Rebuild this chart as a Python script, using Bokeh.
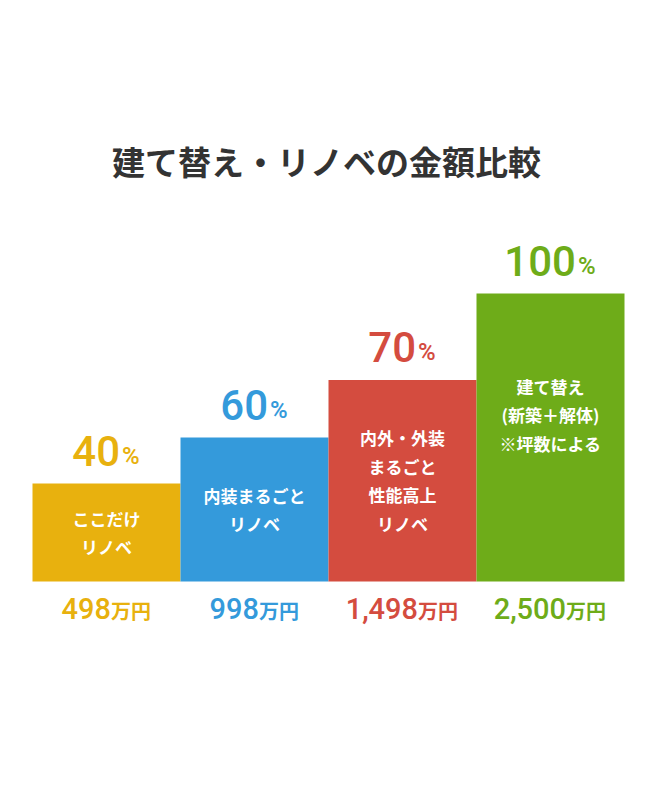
from bokeh.plotting import figure
from bokeh.models import ColumnDataSource, Range1d, Label
from bokeh.core.properties import value
from bokeh.embed import file_html
from bokeh.resources import INLINE

# ---- data ----
title_text = "建て替え・リノベの金額比較"
categories = [
    "ここだけ\nリノベ",
    "内装まるごと\nリノベ",
    "内外・外装\nまるごと\n性能高上\nリノベ",
    "建て替え\n(新築＋解体)\n※坪数による",
]
percent_labels = ["40", "60", "70", "100"]
bar_heights = [34, 50, 70, 100]          # visual bar heights
amount_labels = ["498", "998", "1,498", "2,500"]
amount_unit = "万円"
colors = ["#E8B10E", "#349ADB", "#D44C3F", "#6EAC19"]

# ---- geometry / style ----
W, H = 648, 792
NUM_FONT = "Roboto Medium, Roboto"
JP_FONT = "Noto Sans CJK JP"
PCT_SIZE, PCT_SUF_SIZE = 42, 24
AMT_SIZE, AMT_SUF_SIZE = 29, 20
IN_SIZE = 17


def num_width(s, size):
    return sum(0.562 if c.isdigit() else 0.2 for c in s) * size


xs = list(range(len(categories)))
pct_off = [(num_width(s, PCT_SIZE) - 0.75 * PCT_SUF_SIZE) / 2 - 1 for s in percent_labels]
pct_suf_off = [o + 2 for o in pct_off]
amt_off = [(num_width(s, AMT_SIZE) - 2 * AMT_SUF_SIZE) / 2 for s in amount_labels]
in_y = [h / 2 for h in bar_heights]
in_yoff = [0, 0, 0, -23]

src = ColumnDataSource(dict(
    x=xs, top=bar_heights, color=colors, cat=categories,
    pct=percent_labels, pct_suf=["%"] * len(xs), pct_off=pct_off, pct_suf_off=pct_suf_off,
    amt=amount_labels, amt_suf=[amount_unit] * len(xs), amt_off=amt_off,
    in_y=in_y, in_yoff=in_yoff, zero=[0] * len(xs),
))

px_per_unit = 2.88
base_from_bottom = H - 581
pad_l, pad_r = 32 / 148, 24 / 148
p = figure(width=W, height=H, output_backend="svg", toolbar_location=None,
           x_range=Range1d(-0.5 - pad_l, len(xs) - 0.5 + pad_r),
           y_range=Range1d(-base_from_bottom / px_per_unit,
                           (H - base_from_bottom) / px_per_unit),
           min_border=0)
p.axis.visible = False
p.grid.visible = False
p.outline_line_color = None
p.background_fill_color = "white"
p.border_fill_color = "white"

p.vbar(x="x", top="top", width=1.0, bottom=0, color="color", line_color=None, source=src)

# percentage labels above the bars
p.text(x="x", y="top", text="pct", x_offset="pct_off", y_offset=-33,
       text_align="right", text_baseline="middle",
       text_font=value(NUM_FONT), text_font_style="normal",
       text_font_size=f"{PCT_SIZE}px", text_color="color", source=src)
p.text(x="x", y="top", text="pct_suf", x_offset="pct_suf_off", y_offset=-28,
       text_align="left", text_baseline="middle",
       text_font=value(NUM_FONT), text_font_style="normal",
       text_font_size=f"{PCT_SUF_SIZE}px", text_color="color", source=src)

# labels inside the bars
p.text(x="x", y="in_y", text="cat", y_offset="in_yoff",
       text_align="center", text_baseline="middle", text_line_height=1.14,
       text_font=value(JP_FONT), text_font_style="bold",
       text_font_size=f"{IN_SIZE}px", text_color="white", source=src)

# amount labels below
p.text(x="x", y="zero", text="amt", x_offset="amt_off", y_offset=27,
       text_align="right", text_baseline="middle",
       text_font=value(NUM_FONT), text_font_style="normal",
       text_font_size=f"{AMT_SIZE}px", text_color="color", source=src)
p.text(x="x", y="zero", text="amt_suf", x_offset="amt_off", y_offset=29,
       text_align="left", text_baseline="middle",
       text_font=value(JP_FONT), text_font_style="bold",
       text_font_size=f"{AMT_SUF_SIZE}px", text_color="color", source=src)

p.add_layout(Label(x=326, y=H - 160, x_units="screen", y_units="screen",
                   text=title_text, text_align="center", text_baseline="middle",
                   text_font=JP_FONT, text_font_style="bold",
                   text_font_size="33px", text_color="#333333"))

open("out.html", "w").write(file_html(p, INLINE))
